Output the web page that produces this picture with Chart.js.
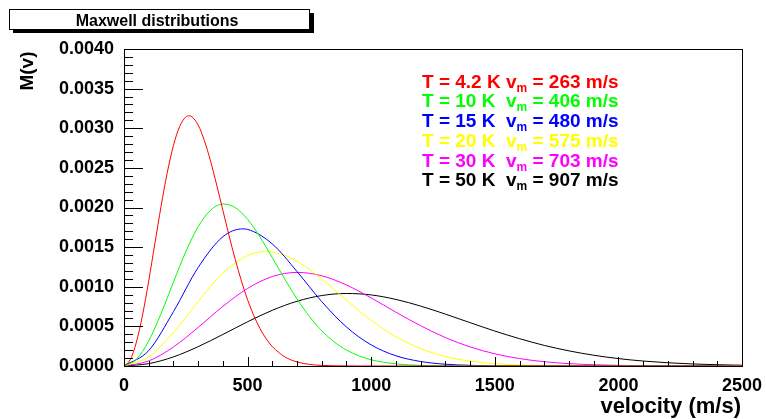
<!DOCTYPE html>
<html>
<head>
<meta charset="utf-8">
<script src="https://cdn.jsdelivr.net/npm/chart.js@4"></script>
<style>
  html, body { margin: 0; padding: 0; background: #fff; }
  canvas { display: block; }
</style>
</head>
<body>
<canvas id="chart" width="766" height="419"></canvas>
<script>
// velocities (m/s) and M(v), one pair per temperature
const vRed = [0, 25, 50, 75, 100, 125, 150, 175, 200, 225, 250, 263, 275, 300, 325, 350, 375, 400, 425, 450, 475, 500, 525, 550, 575, 600, 650, 700, 750, 800, 900, 1000, 1500, 2000, 2500]
const mRed = [0, 0.0000768, 0.000299, 0.000643, 0.001074, 0.001547, 0.002016, 0.002440, 0.002783, 0.003021, 0.003142, 0.003157, 0.003144, 0.003040, 0.002846, 0.002586, 0.002284, 0.001964, 0.001645, 0.001345, 0.001073, 0.000836, 0.000636, 0.000473, 0.000344, 0.000245, 0.000117, 0.0000509, 0.0000205, 0.0000076, 0.0000008, 0, 0, 0, 0]

const vGreen = [0, 50, 100, 150, 200, 250, 300, 350, 400, 450, 500, 550, 600, 650, 700, 750, 800, 850, 900, 950, 1000, 1100, 1200, 1300, 1400, 1500, 2000, 2500]
const mGreen = [0, 0.0000830, 0.000317, 0.000662, 0.001058, 0.001443, 0.001758, 0.001965, 0.002044, 0.001999, 0.001850, 0.001628, 0.001367, 0.001098, 0.000846, 0.000625, 0.000445, 0.000304, 0.000201, 0.000128, 0.0000782, 0.0000265, 0.0000078, 0.000002, 0.0000005, 0, 0, 0]

const vBlue = [0, 100, 200, 300, 400, 480, 500, 600, 700, 800, 900, 1000, 1100, 1200, 1300, 1400, 1500, 1600, 1700, 1800, 1900, 2000, 2100, 2200, 2300, 2400, 2500]
const mBlue = [0, 0.000195, 0.000686, 0.001243, 0.001631, 0.001730, 0.001724, 0.001540, 0.001192, 0.000812, 0.000492, 0.000266, 0.000129, 0.0000567, 0.0000225, 0.0000081, 0.0000026, 0.0000008, 0, 0, 0, 0, 0, 0, 0, 0, 0]

const vYellow = [0, 100, 200, 300, 400, 500, 575, 600, 700, 800, 900, 1000, 1100, 1200, 1300, 1400, 1500, 1600, 1700, 1800, 1900, 2000, 2100, 2200, 2300, 2400, 2500]
const mYellow = [0, 0.000115, 0.000421, 0.000814, 0.001171, 0.001393, 0.001444, 0.001439, 0.001322, 0.001097, 0.000830, 0.000577, 0.000370, 0.000219, 0.000121, 0.0000619, 0.0000296, 0.0000132, 0.0000055, 0.0000021, 0.0000008, 0, 0, 0, 0, 0, 0]

const vMagenta = [0, 100, 200, 300, 400, 500, 600, 700, 800, 900, 1000, 1100, 1200, 1300, 1400, 1500, 1600, 1700, 1800, 1900, 2000, 2100, 2200, 2300, 2400, 2500]
const mMagenta = [0, 0.0000637, 0.000240, 0.000487, 0.000752, 0.000979, 0.001129, 0.001181, 0.001139, 0.001022, 0.000859, 0.000679, 0.000508, 0.000359, 0.000241, 0.000154, 0.0000936, 0.0000542, 0.0000299, 0.0000158, 0.0000079, 0.0000038, 0.0000018, 0.0000008, 0.0000003, 0.0000001]

const vBlack = [0, 100, 200, 300, 400, 500, 600, 700, 800, 900, 1000, 1100, 1200, 1300, 1400, 1500, 1600, 1700, 1800, 1900, 2000, 2100, 2200, 2300, 2400, 2500]
const mBlack = [0, 0.0000299, 0.000115, 0.000244, 0.000398, 0.000558, 0.000703, 0.000817, 0.000889, 0.000915, 0.000897, 0.000840, 0.000756, 0.000655, 0.000547, 0.000441, 0.000345, 0.000260, 0.000191, 0.000136, 0.0000935, 0.0000626, 0.0000408, 0.0000258, 0.0000158, 0.0000095]

// legend text
const legendHead = ['T = 4.2 K v', 'T = 10 K  v', 'T = 15 K  v', 'T = 20 K  v', 'T = 30 K  v', 'T = 50 K  v']
const legendTail = [' = 263 m/s', ' = 406 m/s', ' = 480 m/s', ' = 575 m/s', ' = 703 m/s', ' = 907 m/s']
const colors = ['#ff0000', '#00ff00', '#0000ff', '#ffff00', '#ff00ff', '#000000']

const yTicks = [0, 0.0005, 0.001, 0.0015, 0.002, 0.0025, 0.003, 0.0035, 0.004]
const xTicks = [0, 500, 1000, 1500, 2000, 2500]

const FONT = '"Liberation Sans", Arial, Helvetica, sans-serif'

const series = [[vRed, mRed], [vGreen, mGreen], [vBlue, mBlue], [vYellow, mYellow], [vMagenta, mMagenta], [vBlack, mBlack]]
let data_set = series.map((s, i) => {
    return {
        data: s[0].map((v, k) => ({x: v, y: s[1][k]})),
        borderColor: colors[i],
        borderWidth: 1,
        pointRadius: 0,
        fill: false,
        cubicInterpolationMode: 'monotone'
    }
})

// ROOT style extras: inward ticks, frame, title box, axis titles, legend
const rootStyle = {
    id: 'rootStyle',
    afterDraw(chart) {
        const ctx = chart.ctx
        const a = chart.chartArea
        const xs = chart.scales.x
        const ys = chart.scales.y
        ctx.save()
        ctx.strokeStyle = '#000'
        ctx.lineWidth = 1

        // ticks on y axis
        ctx.beginPath()
        for (let i = 0; i <= 40; i++) {
            let y = Math.round(ys.getPixelForValue(i * 0.0001)) + 0.5
            let len = (i % 5 === 0) ? 19 : 9
            ctx.moveTo(a.left, y)
            ctx.lineTo(a.left + len, y)
        }
        // ticks on x axis
        for (let i = 0; i <= 25; i++) {
            let x = Math.round(xs.getPixelForValue(i * 100)) + 0.5
            let len = (i % 5 === 0) ? 9 : 5
            ctx.moveTo(x, a.bottom)
            ctx.lineTo(x, a.bottom - len)
        }
        ctx.stroke()

        // frame
        ctx.strokeRect(Math.round(a.left) + 0.5, Math.round(a.top) + 0.5,
            Math.round(a.right - a.left), Math.round(a.bottom - a.top))

        // title box with shadow
        ctx.fillStyle = '#000'
        ctx.fillRect(13, 13, 301, 20)
        ctx.fillStyle = '#fff'
        ctx.fillRect(9, 9, 301, 20)
        ctx.strokeRect(9.5, 9.5, 300, 20)
        ctx.fillStyle = '#000'
        ctx.font = 'bold 16px ' + FONT
        ctx.textAlign = 'center'
        ctx.textBaseline = 'alphabetic'
        ctx.fillText('Maxwell distributions', 157, 25.5)

        // y title
        ctx.save()
        ctx.translate(33, 51.5)
        ctx.rotate(-Math.PI / 2)
        ctx.textAlign = 'right'
        ctx.font = 'bold 19px ' + FONT
        ctx.fillText('M(v)', 0, 0)
        ctx.restore()

        // x title
        ctx.textAlign = 'right'
        ctx.font = 'bold 22px ' + FONT
        ctx.fillText('velocity (m/s)', 741, 412.5)

        // legend lines
        ctx.textAlign = 'left'
        for (let i = 0; i < legendHead.length; i++) {
            let x = 422
            let y = 87.5 + i * 19.75
            ctx.fillStyle = colors[i]
            ctx.font = 'bold 19px ' + FONT
            ctx.fillText(legendHead[i], x, y)
            x += ctx.measureText(legendHead[i]).width
            ctx.font = 'bold 12px ' + FONT
            ctx.fillText('m', x, y + 4)
            x += ctx.measureText('m').width
            ctx.font = 'bold 19px ' + FONT
            ctx.fillText(legendTail[i], x, y)
        }
        ctx.restore()
    }
}

const myChart = new Chart(document.getElementById('chart'), {
    type: 'line',
    data: {datasets: data_set},
    plugins: [rootStyle],
    options: {
        responsive: false,
        animation: false,
        devicePixelRatio: 1,
        layout: {padding: {top: 49, right: 24, left: 0, bottom: 0}},
        plugins: {
            legend: {display: false},
            tooltip: {enabled: false},
            title: {display: false}
        },
        scales: {
            x: {
                type: 'linear',
                min: 0,
                max: 2500,
                afterFit: (scale) => {
                    scale.height = 53
                    scale.paddingLeft = 0
                    scale.paddingRight = 0
                },
                afterBuildTicks: (scale) => { scale.ticks = xTicks.map(v => ({value: v})) },
                grid: {display: false, drawTicks: false},
                border: {display: false},
                ticks: {
                    padding: 9,
                    color: '#000',
                    maxRotation: 0,
                    font: {family: FONT, size: 18, weight: 'bold'},
                    callback: (v) => String(v)
                }
            },
            y: {
                type: 'linear',
                min: 0,
                max: 0.004,
                afterFit: (scale) => {
                    scale.width = 124
                    scale.paddingTop = 0
                    scale.paddingBottom = 0
                },
                afterBuildTicks: (scale) => { scale.ticks = yTicks.map(v => ({value: v})) },
                grid: {display: false, drawTicks: false},
                border: {display: false},
                ticks: {
                    padding: 10,
                    color: '#000',
                    font: {family: FONT, size: 18, weight: 'bold'},
                    callback: (v) => v.toFixed(4)
                }
            }
        }
    }
})
</script>
</body>
</html>
